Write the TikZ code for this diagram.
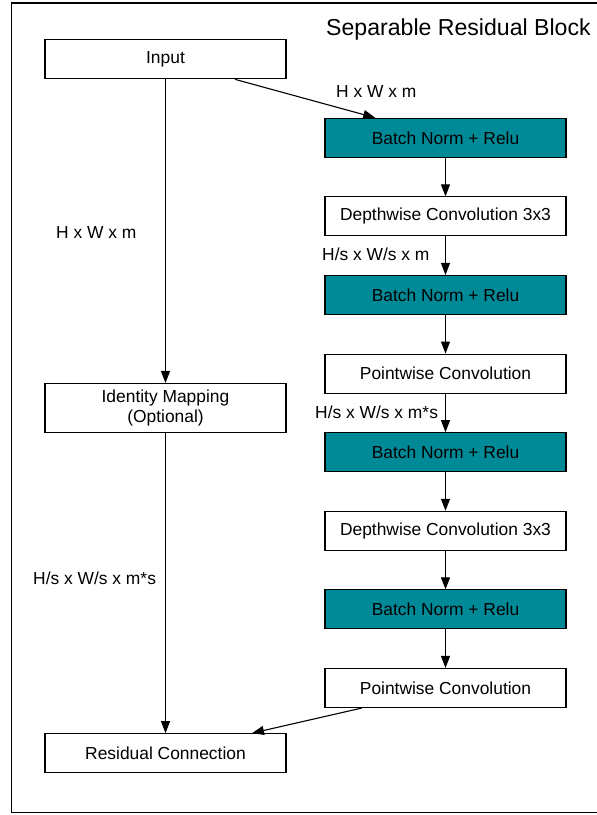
\documentclass[tikz,border=0pt]{standalone}
\usepackage{fontspec}
\setmainfont{Liberation Sans}
\usetikzlibrary{arrows.meta}
\definecolor{bnteal}{RGB}{0,138,152}
\begin{document}
\begin{tikzpicture}[x=1pt,y=-1pt,
  lbl/.style={font=\fontsize{17.4}{20.6}\selectfont},
  box/.style={draw=black, line width=1.1pt, fill=white, minimum width=241pt,
    minimum height=39pt, inner sep=0pt, align=center, lbl},
  bnbox/.style={box, fill=bnteal},
  flow/.style={line width=1.1pt, -{Triangle[length=12pt,width=9pt]}},
  dimtext/.style={lbl, inner sep=0pt, anchor=base west}]
  \useasboundingbox (0,0) rectangle (597,815);
  \clip (0,0) rectangle (597,815);
  % outer frame
  \draw[line width=1.1pt] (11.5,3) rectangle (640,812.5);
  \node[anchor=base west, inner sep=0pt, font=\fontsize{23.1}{27}\selectfont] (title) at (326,35.6) {Separable Residual Block};

  % left column
  \node[box] (in) at (165.5,59.3) {Input};
  \node[box, minimum height=49pt] (idm) at (165.5,408) {Identity Mapping\\(Optional)};
  \node[box] (res) at (165.5,753.2) {Residual Connection};

  % right column
  \node[bnbox] (bn1) at (445.5,137.8) {Batch Norm + Relu};
  \node[box]   (dw1) at (445.5,216.4) {Depthwise Convolution 3x3};
  \node[bnbox] (bn2) at (445.5,295.0) {Batch Norm + Relu};
  \node[box]   (pw1) at (445.5,373.6) {Pointwise Convolution};
  \node[bnbox] (bn3) at (445.5,452.2) {Batch Norm + Relu};
  \node[box]   (dw2) at (445.5,530.8) {Depthwise Convolution 3x3};
  \node[bnbox] (bn4) at (445.5,609.4) {Batch Norm + Relu};
  \node[box]   (pw2) at (445.5,688.0) {Pointwise Convolution};

  % connectors
  \draw[flow] (in.south) -- (idm.north);
  \draw[flow] (idm.south) -- (res.north);
  \draw[flow] ([xshift=69.5pt]in.south) -- ([xshift=-70.3pt]bn1.north);
  \draw[flow] (bn1) -- (dw1);
  \draw[flow] (dw1) -- (bn2);
  \draw[flow] (bn2) -- (pw1);
  \draw[flow] (pw1) -- (bn3);
  \draw[flow] (bn3) -- (dw2);
  \draw[flow] (dw2) -- (bn4);
  \draw[flow] (bn4) -- (pw2);
  \draw[flow] ([xshift=-83.8pt]pw2.south) -- ([xshift=86.5pt]res.north);

  % tensor shapes
  \node[dimtext] (d1) at (336,97.2) {H x W x m};
  \node[dimtext] (d2) at (322,260.2) {H/s x W/s x m};
  \node[dimtext] (d3) at (315,418.2) {H/s x W/s x m*s};
  \node[dimtext] (d4) at (56,238.2) {H x W x m};
  \node[dimtext] (d5) at (33,584.8) {H/s x W/s x m*s};
\end{tikzpicture}
\end{document}
